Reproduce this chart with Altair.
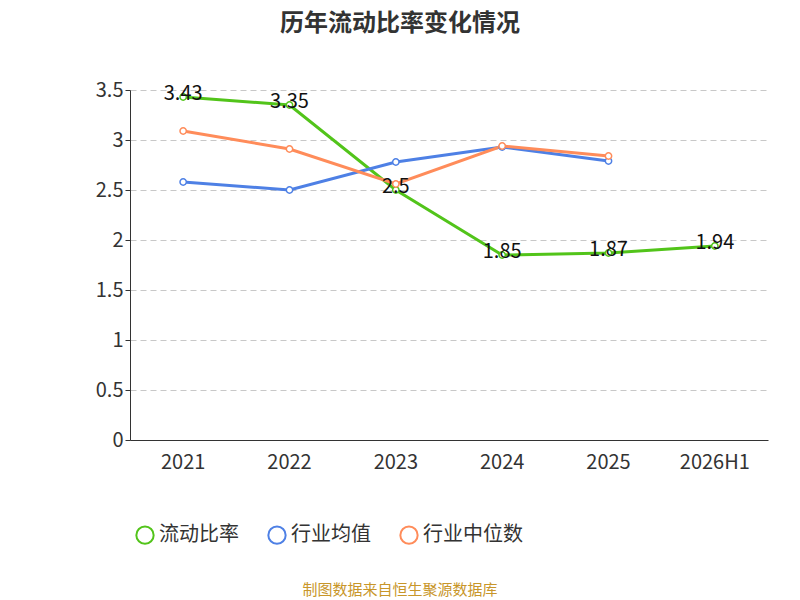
import altair as alt
import pandas as pd

years = ["2021", "2022", "2023", "2024", "2025", "2026H1"]
ratio = [3.43, 3.35, 2.5, 1.85, 1.87, 1.94]
avg_years = ["2021", "2022", "2023", "2024", "2025"]
industry_avg = [2.58, 2.50, 2.78, 2.93, 2.79]
industry_median = [3.09, 2.91, 2.56, 2.94, 2.84]

series = ["流动比率", "行业均值", "行业中位数"]
colors = ["#52c41a", "#4e80e5", "#ff8c5a"]

rows = [{"year": y, "v": v, "s": series[0]} for y, v in zip(years, ratio)]
rows += [{"year": y, "v": v, "s": series[1]} for y, v in zip(avg_years, industry_avg)]
rows += [{"year": y, "v": v, "s": series[2]} for y, v in zip(avg_years, industry_median)]
df = pd.DataFrame(rows)

font = "Noto Sans CJK SC"
x = alt.X("year:N", sort=years, title=None, bandPosition=0.5,
          scale=alt.Scale(type="band", domain=years, paddingInner=0, paddingOuter=0),
          axis=alt.Axis(labelAngle=0, labelFontSize=20, labelColor="#333", ticks=False,
                        domainColor="#333", labelPadding=12, labelFont=font))
y = alt.Y("v:Q", title=None, scale=alt.Scale(domain=[0, 3.5]),
          axis=alt.Axis(values=[0, 0.5, 1, 1.5, 2, 2.5, 3, 3.5], format="~g",
                        labelFontSize=20, labelColor="#333", domainColor="#333",
                        tickColor="#333", gridDash=[6, 4], gridColor="#c8c8c8",
                        labelFont=font))
color = alt.Color("s:N", scale=alt.Scale(domain=series, range=colors),
                  legend=alt.Legend(title=None, orient="none", legendX=5, legendY=435,
                                    direction="horizontal", labelFontSize=20,
                                    labelColor="#333", symbolType="circle",
                                    symbolSize=300, symbolFillColor="white",
                                    symbolStrokeWidth=2, columnPadding=25,
                                    labelFont=font))

base = alt.Chart(df)
lines = base.mark_line(strokeWidth=3).encode(x=x, y=y, color=color)
pts = base.mark_point(filled=False, fill="white", fillOpacity=1, size=40,
                      strokeWidth=1.5, opacity=1).encode(
    x=x, y=y, color=alt.Color("s:N", scale=alt.Scale(domain=series, range=colors), legend=None))
labels = base.transform_filter(alt.datum.s == "流动比率").mark_text(
    fontSize=20, color="#111", dy=-3, font=font).encode(x=x, y=y, text="v:Q")
footer = alt.Chart(pd.DataFrame({"t": ["制图数据来自恒生聚源数据库"]})).mark_text(
    fontSize=15, color="#c8962a", font=font).encode(
    x=alt.value(270), y=alt.value(500), text="t:N")

chart = (lines + pts + labels + footer).properties(
    width=638, height=350,
    autosize=alt.AutoSizeParams(type="none"),
    padding={"left": 122, "top": 82, "right": 24, "bottom": 160},
    title=alt.Title("历年流动比率变化情况", fontSize=24, font=font, color="#333",
                    fontWeight="bold", offset=44, anchor="middle", dx=-49),
).configure_view(stroke=None)

chart.save("out.html", embed_options={"renderer": "svg", "actions": False})
